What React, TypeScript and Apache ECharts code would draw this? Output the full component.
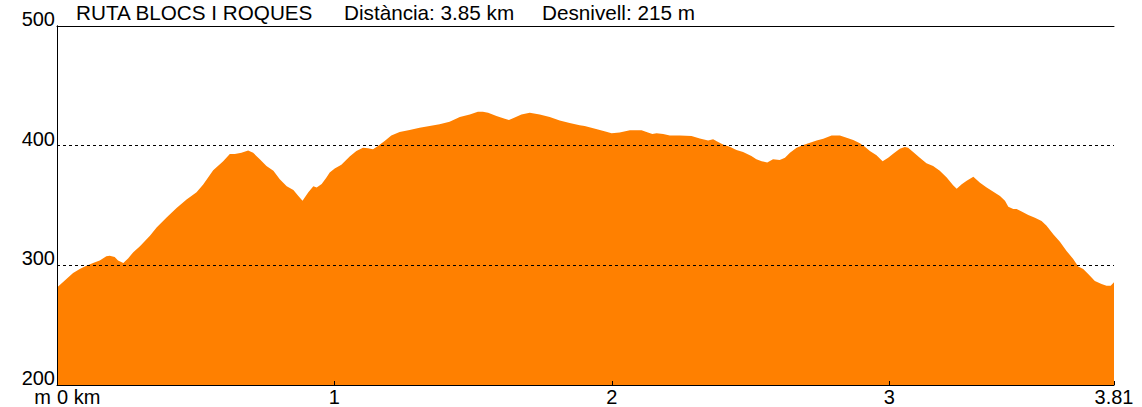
import React, { useEffect, useRef } from "react";
import * as echarts from "echarts";

const distKm: number[] = [
  0, 0.034, 0.058, 0.082, 0.106, 0.13, 0.154, 0.178, 0.19, 0.208, 0.22, 0.239, 0.257, 0.275, 0.299,
  0.335, 0.359, 0.395, 0.431, 0.467, 0.503, 0.527, 0.563, 0.599, 0.623, 0.641, 0.665, 0.689, 0.707,
  0.731, 0.755, 0.78, 0.803, 0.828, 0.852, 0.87, 0.885, 0.906, 0.924, 0.936, 0.954, 0.97, 0.983,
  1.001, 1.025, 1.055, 1.079, 1.103, 1.121, 1.139, 1.157, 1.181, 1.205, 1.235, 1.271, 1.307, 1.343,
  1.379, 1.415, 1.452, 1.488, 1.517, 1.535, 1.554, 1.584, 1.614, 1.629, 1.65, 1.674, 1.704, 1.74,
  1.776, 1.812, 1.848, 1.884, 1.902, 1.926, 1.95, 1.98, 1.999, 2.028, 2.065, 2.107, 2.125, 2.146,
  2.161, 2.185, 2.209, 2.245, 2.287, 2.317, 2.347, 2.365, 2.383, 2.401, 2.425, 2.449, 2.473, 2.503,
  2.521, 2.54, 2.56, 2.581, 2.605, 2.624, 2.642, 2.666, 2.69, 2.714, 2.738, 2.762, 2.792, 2.822,
  2.846, 2.87, 2.894, 2.912, 2.93, 2.954, 2.976, 2.996, 3.014, 3.038, 3.056, 3.068, 3.086, 3.11,
  3.134, 3.158, 3.182, 3.207, 3.23, 3.243, 3.261, 3.279, 3.303, 3.327, 3.351, 3.375, 3.399, 3.417,
  3.429, 3.447, 3.459, 3.477, 3.501, 3.525, 3.549, 3.567, 3.591, 3.615, 3.639, 3.663, 3.681, 3.699,
  3.717, 3.741, 3.765, 3.783, 3.798, 3.81,
];

const elevM: number[] = [
  281.5, 288.6, 293.6, 297, 299.7, 302, 304, 307.5, 308, 307, 304, 302, 306, 311, 316,
  324.7, 331.7, 340, 348, 355, 361, 367.5, 379.4, 387, 393, 393, 394, 396, 394,
  388.6, 383, 379, 372, 366, 363, 358, 354, 361, 366, 365, 368, 373, 377.5,
  381, 384, 391, 395.6, 398.3, 397.8, 397, 399.7, 404, 408.6, 411.4, 413, 415, 416.4,
  417.8, 420, 424, 426, 428.3, 428.3, 427.5, 424.7, 422.5, 421.4, 423.6, 426, 427.5, 426,
  424, 421, 419, 417, 416.4, 415, 413.6, 411.7, 410.3, 411, 412.8, 412.8, 411.4, 409.7,
  410.3, 409.7, 408.6, 408.6, 408, 406, 404.4, 405.3, 403, 401, 399, 396.4, 394.7, 391.4,
  388.6, 387, 386, 388.6, 388, 390, 394, 398.3, 400.6, 402.5, 404.4, 405.8, 408.6, 408.6,
  406.7, 404.7, 402, 399, 395.6, 392, 387, 390, 393.3, 397.5, 398.9, 398.3, 394.7, 390,
  385.3, 383, 379, 373.3, 367, 364, 367.8, 370.6, 374, 369, 365, 361.4, 358, 353.9,
  349, 347, 347, 345, 342, 339.7, 337, 333, 326, 319.7, 312, 305.3, 299, 297,
  292.8, 287, 284.4, 283, 283, 285.8,
];

const routeName = "RUTA BLOCS I ROQUES";
const distanceText = "Distància: 3.85 km";
const climbText = "Desnivell: 215 m";
const yUnit = "m";
const yTicks = { min: 200, max: 500, interval: 100 };
const xTicks = { min: 0, max: 3.81, interval: 1 };

const FONT = "'Liberation Sans', Arial, sans-serif";

export default function App() {
  const ref = useRef<HTMLDivElement>(null);
  useEffect(() => {
    if (!ref.current) return;
    const chart = echarts.init(ref.current, undefined, { renderer: "svg" });
    const data = distKm.map((d, i) => [d, elevM[i]]);
    const titleStyle = (text: string) => ({
      text,
      fill: "#000",
      font: `20.7px ${FONT}`,
      verticalAlign: "middle",
      align: "left",
    });
    chart.setOption({
      animation: false,
      backgroundColor: "#ffffff",
      grid: { left: 57, right: 28, top: 26, bottom: 21, show: false },
      xAxis: [
        {
          type: "value",
          min: xTicks.min,
          max: xTicks.max,
          interval: xTicks.interval,
          z: 5,
          axisLine: { show: true, lineStyle: { color: "#000", width: 1 } },
          axisTick: { show: true, inside: true, length: 4, lineStyle: { color: "#000" } },
          splitLine: { show: false },
          axisLabel: {
            show: true,
            showMaxLabel: true,
            showMinLabel: true,
            alignMinLabel: "left",
            alignMaxLabel: "center",
            color: "#000",
            fontSize: 20,
            fontFamily: FONT,
            margin: 3,
            lineHeight: 18,
            formatter: (v: number) => (v === 0 ? "0 km" : String(Math.round(v * 100) / 100)),
          },
        },
        {
          type: "value",
          position: "top",
          min: xTicks.min,
          max: xTicks.max,
          z: 5,
          axisLine: { show: true, lineStyle: { color: "#000", width: 1 } },
          axisTick: { show: false },
          axisLabel: { show: false },
          splitLine: { show: false },
        },
      ],
      yAxis: [
        {
          type: "value",
          min: yTicks.min,
          max: yTicks.max,
          interval: yTicks.interval,
          z: 5,
          axisLine: { show: true, lineStyle: { color: "#000", width: 1 } },
          axisTick: { show: false },
          splitLine: { show: true, lineStyle: { color: "#000", width: 1, type: [3, 3] } },
          axisLabel: {
            color: "#000",
            fontSize: 20,
            fontFamily: FONT,
            margin: 2,
            verticalAlign: "bottom",
            lineHeight: 14,
          },
        },
        {
          type: "value",
          position: "right",
          min: yTicks.min,
          max: yTicks.max,
          z: 5,
          axisLine: { show: true, lineStyle: { color: "#000", width: 1 } },
          axisTick: { show: false },
          axisLabel: { show: false },
          splitLine: { show: false },
        },
      ],
      graphic: [
        { type: "text", x: 76, y: 12, style: titleStyle(routeName) },
        { type: "text", x: 344, y: 12, style: titleStyle(distanceText) },
        { type: "text", x: 542, y: 12, style: titleStyle(climbText) },
        {
          type: "text",
          x: 51,
          y: 397,
          style: {
            text: yUnit,
            fill: "#000",
            font: `20px ${FONT}`,
            lineHeight: 16,
            align: "right",
            verticalAlign: "middle",
          },
        },
      ],
      series: [
        {
          type: "line",
          data,
          xAxisIndex: 0,
          yAxisIndex: 0,
          symbol: "none",
          smooth: false,
          z: 2,
          lineStyle: { width: 0, color: "#FF8000" },
          areaStyle: { color: "#FF8000", opacity: 1, origin: "start" },
        },
      ],
    });
    return () => chart.dispose();
  }, []);
  return (
    <div
      ref={ref}
      style={{ position: "fixed", left: 0, top: 0, width: 1142, height: 407 }}
    />
  );
}
